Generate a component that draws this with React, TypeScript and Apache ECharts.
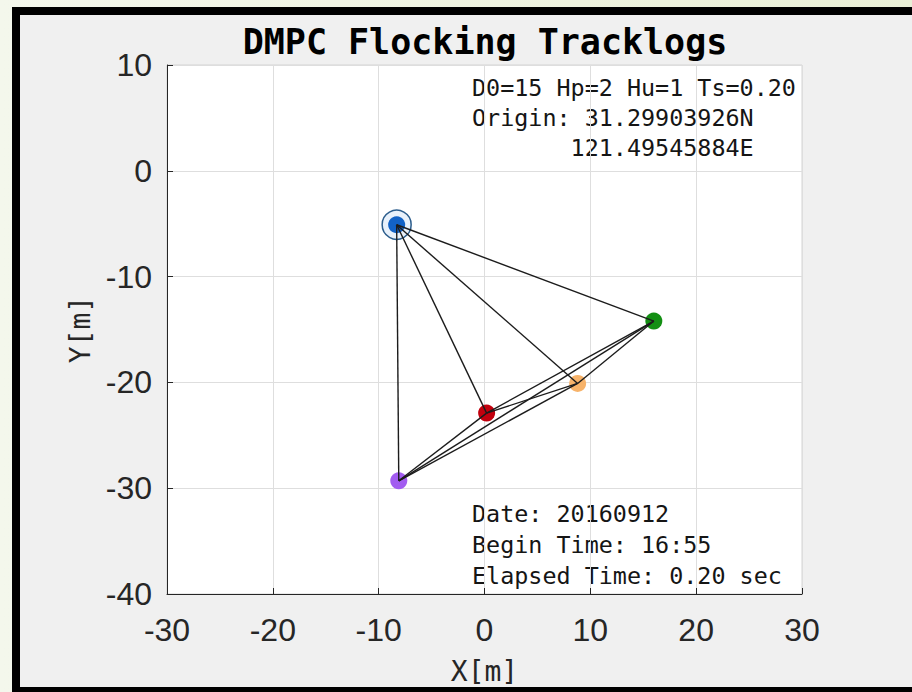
import React, { useEffect, useRef } from "react";
import * as echarts from "echarts";

// ---- data ----
const nodeX = [-8.3, 16.0, 8.8, 0.2, -8.1];
const nodeY = [-5.1, -14.2, -20.1, -22.9, -29.3];
const nodeColors = ["#1262c6", "#138f13", "#f7b36a", "#c2000e", "#a25cf0"];
const leaderIndex = 0;

const titleText = "DMPC Flocking Tracklogs";
const paramLines = ["D0=15 Hp=2 Hu=1 Ts=0.20", "Origin: 31.29903926N"];
const originLon = "121.49545884E";
const infoLines = ["Date: 20160912", "Begin Time: 16:55", "Elapsed Time: 0.20 sec"];

const xAxisRange = [-30, 30];
const yAxisRange = [-40, 10];
const tickStep = 10;

export default function App() {
  const ref = useRef<HTMLDivElement>(null);

  useEffect(() => {
    if (!ref.current) return;
    const chart = echarts.init(ref.current, null, { renderer: "svg" });

    const points = nodeX.map((x, i) => ({
      value: [x, nodeY[i]],
      itemStyle: { color: nodeColors[i], opacity: 1 },
    }));

    const edges: any[] = [];
    for (let i = 0; i < nodeX.length; i++) {
      for (let j = i + 1; j < nodeX.length; j++) {
        edges.push({ coords: [[nodeX[i], nodeY[i]], [nodeX[j], nodeY[j]]] });
      }
    }

    const mono = "DejaVu Sans Mono";
    const textX = 472;
    const fs = 23.4;
    const charW = fs * 0.602;
    const textEls: any[] = [];
    const mk = (t: string, x: number, y: number) => ({
      type: "text",
      x,
      y,
      style: { text: t, fontSize: fs, fontFamily: mono, fill: "#151515", verticalAlign: "middle", align: "left" },
      silent: true,
    });
    paramLines.forEach((t, i) => textEls.push(mk(t, textX, 88 + i * 30)));
    textEls.push(mk(originLon, textX + 7 * charW, 148));
    infoLines.forEach((t, i) => textEls.push(mk(t, textX, 514 + i * 31)));
    textEls.push({
      type: "text",
      x: 485,
      y: 42,
      style: { text: titleText, fontSize: 35, fontWeight: "bold", fontFamily: mono, fill: "#000", verticalAlign: "middle", align: "center" },
      silent: true,
    });

    const axisCommon = {
      type: "value",
      interval: tickStep,
      axisLine: { show: true, onZero: false, lineStyle: { color: "#262626", width: 1 } },
      axisTick: { show: true, inside: true, length: 6, lineStyle: { color: "#262626" } },
      splitLine: { show: true, lineStyle: { color: "#dedede", width: 1 } },
      axisLabel: { color: "#262626", fontSize: 32, fontFamily: "Liberation Sans" },
      nameTextStyle: { color: "#262626", fontSize: 28, fontFamily: mono },
      nameLocation: "middle",
    };

    chart.setOption({
      animation: false,
      backgroundColor: "transparent",
      grid: {
        left: 167,
        right: 110,
        top: 65,
        bottom: 98,
        show: true,
        backgroundColor: "#ffffff",
        borderColor: "#d4d4d4",
        borderWidth: 1,
        containLabel: false,
      },
      xAxis: {
        ...axisCommon,
        min: xAxisRange[0],
        max: xAxisRange[1],
        name: "X[m]",
        nameGap: 63,
        axisLabel: { ...axisCommon.axisLabel, margin: 20 },
      },
      yAxis: {
        ...axisCommon,
        min: yAxisRange[0],
        max: yAxisRange[1],
        name: "Y[m]",
        nameGap: 69,
        axisLabel: { ...axisCommon.axisLabel, margin: 15 },
      },
      graphic: { elements: textEls },
      series: [
        {
          type: "scatter",
          silent: true,
          symbol: "circle",
          symbolSize: 29,
          z: 2,
          itemStyle: { color: "#e8f1fb", borderColor: "#2c5d8c", borderWidth: 1.5, opacity: 1 },
          data: [[nodeX[leaderIndex], nodeY[leaderIndex]]],
        },
        {
          type: "scatter",
          silent: true,
          symbol: "circle",
          symbolSize: 17,
          z: 3,
          data: points,
        },
        {
          type: "lines",
          coordinateSystem: "cartesian2d",
          silent: true,
          z: 4,
          lineStyle: { color: "#1c1c1c", width: 1.4, opacity: 1 },
          data: edges,
        },
      ],
    });

    return () => chart.dispose();
  }, []);

  return (
    <div style={{ position: "absolute", left: 0, top: 0, width: 912, height: 692, overflow: "hidden",
      background: "linear-gradient(to right, #f4f7ec, #e9efd6)" }}>
      <div style={{ position: "absolute", left: 12, top: 7, width: 900, height: 685, background: "#000" }} />
      <div style={{ position: "absolute", left: 20, top: 15, width: 892, height: 672, background: "#f0f0f0" }} />
      <div ref={ref} style={{ position: "absolute", left: 0, top: 0, width: 912, height: 692 }} />
    </div>
  );
}
